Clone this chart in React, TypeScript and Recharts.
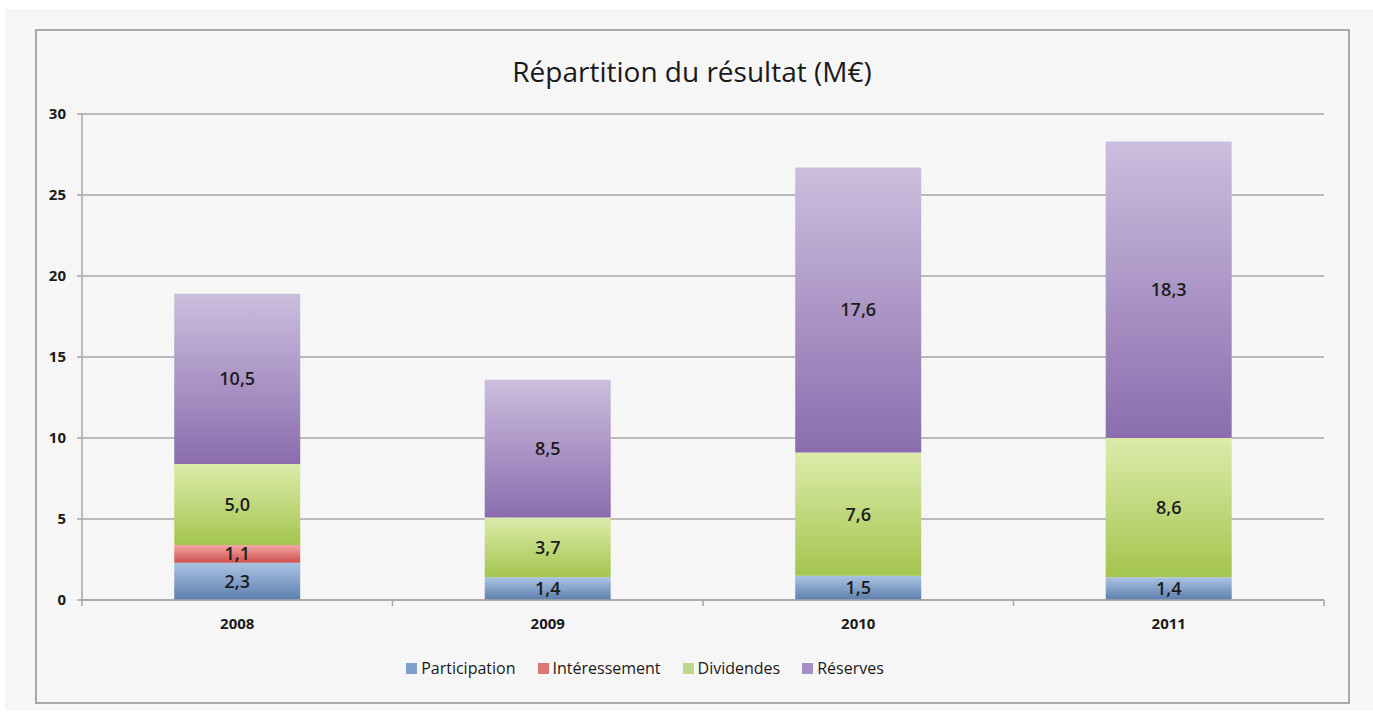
import React from "react";
import { BarChart, Bar, XAxis, YAxis, CartesianGrid, LabelList, Legend } from "recharts";

const categories = ["2008", "2009", "2010", "2011"];
const participation = [2.3, 1.4, 1.5, 1.4];
const interessement = [1.1, 0, 0, 0];
const dividendes = [5.0, 3.7, 7.6, 8.6];
const reserves = [10.5, 8.5, 17.6, 18.3];
const yTicks = [0, 5, 10, 15, 20, 25, 30];

const series = [
  { key: "participation", name: "Participation", top: "#abc4e4", bottom: "#5d7ead", swatch: "#7f9fcb" },
  { key: "interessement", name: "Intéressement", top: "#f2a9a6", bottom: "#d0504d", swatch: "#dd7774" },
  { key: "dividendes", name: "Dividendes", top: "#dcebaa", bottom: "#a4c54f", swatch: "#bcd787" },
  { key: "reserves", name: "Réserves", top: "#ccbede", bottom: "#8b6dae", swatch: "#a590c3" },
];

const data = categories.map((c, i) => ({
  year: c,
  participation: participation[i],
  interessement: interessement[i],
  dividendes: dividendes[i],
  reserves: reserves[i],
}));

const FONT = "'Open Sans', 'DejaVu Sans', sans-serif";
const AXIS_GRAY = "#a6a6a6";

const fmt = (v: any) => (v && Number(v) > 0 ? Number(v).toFixed(1).replace(".", ",") : "");

const YearTick = (props: any) => {
  const { x, y, payload, index, visibleTicksCount, width } = props;
  const count = visibleTicksCount || categories.length;
  const band = width ? Number(width) / count : 0;
  return (
    <g>
      {band > 0 && (
        <line x1={x - band / 2} x2={x - band / 2} y1={y} y2={y + 6} stroke={AXIS_GRAY} strokeWidth={1.5} />
      )}
      {band > 0 && index === count - 1 && (
        <line x1={x + band / 2} x2={x + band / 2} y1={y} y2={y + 6} stroke={AXIS_GRAY} strokeWidth={1.5} />
      )}
      <text x={x} y={y + 29} textAnchor="middle" fill="#1a1a1a" fontSize={15} fontWeight={700} fontFamily={FONT}>
        {payload.value}
      </text>
    </g>
  );
};

const LegendContent = () => (
  <div style={{ display: "flex", justifyContent: "center", alignItems: "center", fontFamily: FONT, fontSize: 16, fontWeight: 500, color: "#1a1a1a", height: 24 }}>
    {series.map((s, i) => (
      <div key={s.key} style={{ display: "flex", alignItems: "center", marginLeft: i === 0 ? 0 : 22 }}>
        <span style={{ width: 11, height: 11, background: s.swatch, display: "inline-block", marginRight: 4 }} />
        <span>{s.name}</span>
      </div>
    ))}
  </div>
);

export default function App() {
  return (
    <div style={{ position: "absolute", left: 0, top: 0, width: 1373, height: 713, background: "#ffffff", overflow: "hidden" }}>
      <div style={{ position: "absolute", left: 5, top: 9, width: 1368, height: 701, background: "#f6f6f6" }} />
      <div style={{ position: "absolute", left: 35, top: 29, width: 1311, height: 671, border: "2px solid #a8a8a8" }} />
      <div style={{ position: "absolute", left: 0, top: 52, width: 1384, textAlign: "center", fontFamily: FONT, fontSize: 28, color: "#1a1a1a", lineHeight: "38px" }}>
        Répartition du résultat (M€)
      </div>
      <div style={{ position: "absolute", left: 0, top: 0 }}>
        <BarChart
          width={1373}
          height={713}
          data={data}
          margin={{ top: 114, right: 49, bottom: 59, left: 42 }}
          barCategoryGap="29.7%"
        >
          <defs>
            {series.map((s) => (
              <linearGradient key={s.key} id={"g-" + s.key} x1="0" y1="0" x2="0" y2="1">
                <stop offset="0%" stopColor={s.top} />
                <stop offset="100%" stopColor={s.bottom} />
              </linearGradient>
            ))}
          </defs>
          <CartesianGrid vertical={false} stroke={AXIS_GRAY} strokeWidth={1.5} />
          <XAxis
            dataKey="year"
            height={30}
            tickLine={false}
            tickSize={0}
            tickMargin={0}
            axisLine={{ stroke: AXIS_GRAY, strokeWidth: 1.5 }}
            tick={YearTick}
            interval={0}
          />
          <YAxis
            domain={[0, 30]}
            ticks={yTicks}
            width={40}
            axisLine={{ stroke: AXIS_GRAY, strokeWidth: 1.5 }}
            tickLine={{ stroke: AXIS_GRAY, strokeWidth: 1.5 }}
            tickSize={5}
            tick={{ fill: "#1a1a1a", fontSize: 15, fontWeight: 700, fontFamily: FONT }}
            tickMargin={11}
          />
          <Legend
            content={<LegendContent />}
            wrapperStyle={{ position: "absolute", top: 656, left: 0, width: 1290, height: 24 }}
          />
          {series.map((s) => (
            <Bar
              key={s.key}
              dataKey={s.key}
              name={s.name}
              stackId="a"
              fill={`url(#g-${s.key})`}
              isAnimationActive={false}
            >
              <LabelList
                dataKey={s.key}
                position="center"
                formatter={fmt}
                style={{ fill: "#1c1c1c", fontSize: 18, fontFamily: FONT, fontWeight: 600 }}
              />
            </Bar>
          ))}
        </BarChart>
      </div>
    </div>
  );
}
